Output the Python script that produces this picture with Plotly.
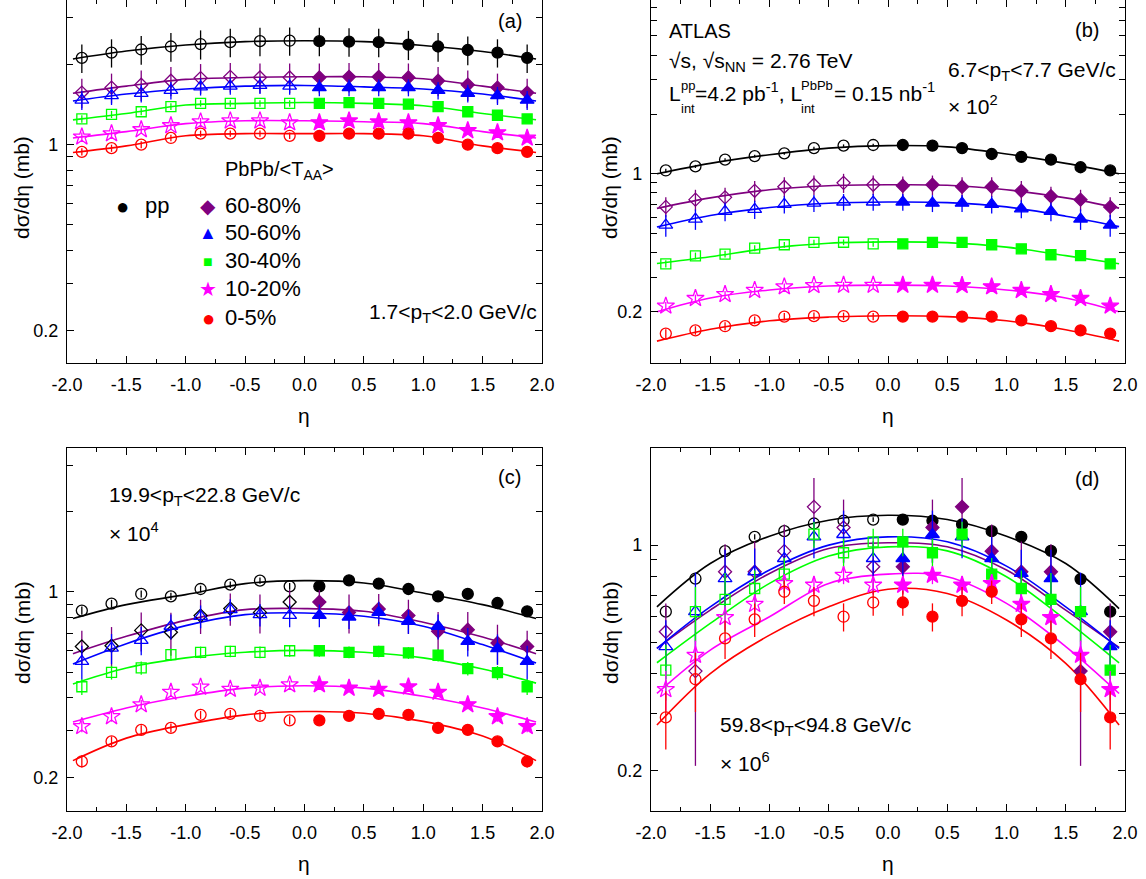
import math
import plotly.graph_objects as go

W, H = 1146, 879
FONT = "Liberation Sans, Arial, sans-serif"

# ---------------- data ----------------
ETA = [-1.875, -1.625, -1.375, -1.125, -0.875, -0.625, -0.375, -0.125,
       0.125, 0.375, 0.625, 0.875, 1.125, 1.375, 1.625, 1.875]
FIT_ETA = [-1.95, -1.5, -1.0, -0.5, 0.0, 0.5, 1.0, 1.5, 1.95]
SERIES = ["pp", "60-80%", "50-60%", "30-40%", "10-20%", "0-5%"]

X_TICKS = [-2.0, -1.5, -1.0, -0.5, 0.0, 0.5, 1.0, 1.5, 2.0]
X_TICKTEXT = ["-2.0", "-1.5", "-1.0", "-0.5", "0.0", "0.5", "1.0", "1.5", "2.0"]
Y_MAJOR = [0.2, 1]
Y_MAJOR_TEXT = ["0.2", "1"]
Y_MINOR = [0.1, 0.3, 0.4, 0.5, 0.6, 0.7, 0.8, 0.9, 2, 3, 4, 5, 6, 7, 8, 9]

# panel (a) 1.7<pT<2.0
A_PP = [2.12, 2.22, 2.28, 2.34, 2.39, 2.43, 2.45, 2.46, 2.45, 2.44, 2.43, 2.38, 2.34, 2.27, 2.22, 2.12]
A_C6080 = [1.57, 1.64, 1.68, 1.74, 1.78, 1.80, 1.79, 1.79, 1.79, 1.80, 1.80, 1.79, 1.74, 1.68, 1.64, 1.57]
A_C5060 = [1.47, 1.53, 1.56, 1.60, 1.65, 1.66, 1.67, 1.66, 1.64, 1.64, 1.64, 1.64, 1.60, 1.56, 1.53, 1.47]
A_C3040 = [1.25, 1.30, 1.33, 1.39, 1.43, 1.43, 1.43, 1.43, 1.43, 1.44, 1.43, 1.42, 1.39, 1.33, 1.29, 1.25]
A_C1020 = [1.07, 1.10, 1.14, 1.18, 1.22, 1.23, 1.23, 1.21, 1.21, 1.23, 1.22, 1.21, 1.18, 1.13, 1.11, 1.06]
A_C0005 = [0.94, 0.97, 1.00, 1.06, 1.10, 1.10, 1.10, 1.08, 1.08, 1.10, 1.10, 1.10, 1.06, 1.00, 0.97, 0.94]
A_PP_ERR = [0.26, 0.27, 0.28, 0.29, 0.30, 0.30, 0.30, 0.30, 0.30, 0.30, 0.30, 0.30, 0.29, 0.28, 0.27, 0.26]
A_C6080_ERR = [0.20, 0.21, 0.22, 0.22, 0.23, 0.23, 0.23, 0.23, 0.23, 0.23, 0.23, 0.23, 0.22, 0.22, 0.21, 0.20]
A_C5060_ERR = [0.12, 0.12, 0.12, 0.12, 0.12, 0.12, 0.12, 0.12, 0.12, 0.12, 0.12, 0.12, 0.12, 0.12, 0.12, 0.12]
A_C3040_ERR = [0.04, 0.04, 0.04, 0.04, 0.04, 0.04, 0.04, 0.04, 0.04, 0.04, 0.04, 0.04, 0.04, 0.04, 0.04, 0.04]
A_C1020_ERR = [0.04, 0.04, 0.04, 0.04, 0.04, 0.04, 0.04, 0.04, 0.04, 0.04, 0.04, 0.04, 0.04, 0.04, 0.04, 0.04]
A_C0005_ERR = [0.03, 0.03, 0.03, 0.03, 0.03, 0.03, 0.03, 0.03, 0.03, 0.03, 0.03, 0.03, 0.03, 0.03, 0.03, 0.03]
A_PP_FIT = [2.10, 2.25, 2.37, 2.44, 2.46, 2.44, 2.36, 2.24, 2.10]
A_C6080_FIT = [1.56, 1.66, 1.76, 1.79, 1.80, 1.80, 1.77, 1.66, 1.56]
A_C5060_FIT = [1.46, 1.55, 1.62, 1.66, 1.67, 1.65, 1.62, 1.55, 1.46]
A_C3040_FIT = [1.24, 1.31, 1.41, 1.43, 1.44, 1.43, 1.40, 1.31, 1.24]
A_C1020_FIT = [1.06, 1.12, 1.20, 1.23, 1.23, 1.22, 1.20, 1.12, 1.06]
A_C0005_FIT = [0.935, 0.99, 1.08, 1.10, 1.10, 1.10, 1.08, 0.99, 0.935]

# panel (b) 6.7<pT<7.7  (x 10^2)
B_PP = [1.04, 1.09, 1.18, 1.23, 1.27, 1.35, 1.39, 1.40, 1.40, 1.39, 1.35, 1.26, 1.22, 1.18, 1.08, 1.04]
B_C6080 = [0.68, 0.74, 0.76, 0.82, 0.86, 0.88, 0.90, 0.88, 0.87, 0.88, 0.86, 0.86, 0.82, 0.77, 0.74, 0.68]
B_C5060 = [0.55, 0.59, 0.645, 0.66, 0.70, 0.71, 0.72, 0.72, 0.72, 0.71, 0.71, 0.70, 0.665, 0.645, 0.59, 0.55]
B_C3040 = [0.35, 0.384, 0.392, 0.42, 0.437, 0.449, 0.45, 0.442, 0.442, 0.449, 0.449, 0.437, 0.417, 0.389, 0.385, 0.35]
B_C1020 = [0.214, 0.234, 0.245, 0.257, 0.268, 0.272, 0.273, 0.273, 0.273, 0.273, 0.272, 0.268, 0.257, 0.245, 0.234, 0.214]
B_C0005 = [0.155, 0.161, 0.169, 0.181, 0.189, 0.19, 0.19, 0.189, 0.189, 0.189, 0.189, 0.189, 0.181, 0.169, 0.161, 0.155]
B_PP_ERR = [0.02, 0.02, 0.02, 0.02, 0.02, 0.02, 0.02, 0.02, 0.02, 0.02, 0.02, 0.02, 0.02, 0.02, 0.02, 0.02]
B_C6080_ERR = [0.08, 0.09, 0.09, 0.10, 0.10, 0.10, 0.10, 0.10, 0.10, 0.10, 0.10, 0.10, 0.10, 0.09, 0.09, 0.08]
B_C5060_ERR = [0.07, 0.07, 0.07, 0.07, 0.07, 0.07, 0.07, 0.07, 0.07, 0.07, 0.07, 0.07, 0.07, 0.07, 0.07, 0.07]
B_C3040_ERR = [0.015, 0.015, 0.015, 0.015, 0.015, 0.015, 0.015, 0.015, 0.015, 0.015, 0.015, 0.015, 0.015, 0.015, 0.015, 0.015]
B_C1020_ERR = [0.01, 0.01, 0.01, 0.01, 0.01, 0.01, 0.01, 0.01, 0.01, 0.01, 0.01, 0.01, 0.01, 0.01, 0.01, 0.01]
B_C0005_ERR = [0.008, 0.008, 0.008, 0.008, 0.008, 0.008, 0.008, 0.008, 0.008, 0.008, 0.008, 0.008, 0.008, 0.008, 0.008, 0.008]
B_PP_FIT = [1.00, 1.13, 1.25, 1.35, 1.39, 1.37, 1.26, 1.13, 1.00]
B_C6080_FIT = [0.668, 0.755, 0.83, 0.87, 0.88, 0.875, 0.83, 0.755, 0.67]
B_C5060_FIT = [0.538, 0.615, 0.675, 0.71, 0.72, 0.715, 0.68, 0.61, 0.54]
B_C3040_FIT = [0.351, 0.38, 0.42, 0.445, 0.452, 0.448, 0.425, 0.385, 0.35]
B_C1020_FIT = [0.20, 0.235, 0.258, 0.27, 0.273, 0.27, 0.258, 0.235, 0.20]
B_C0005_FIT = [0.142, 0.163, 0.18, 0.188, 0.191, 0.189, 0.18, 0.162, 0.142]

# panel (c) 19.9<pT<22.8  (x 10^4)
C_PP = [0.851, 0.904, 0.983, 0.963, 1.026, 1.066, 1.103, 1.05, 1.05, 1.106, 1.075, 1.026, 0.963, 0.983, 0.909, 0.846]
C_C6080 = [0.624, 0.628, 0.717, 0.705, 0.815, 0.866, 0.838, 0.917, 0.917, 0.838, 0.863, 0.815, 0.711, 0.721, 0.643, 0.624]
C_C5060 = [0.548, 0.615, 0.658, 0.743, 0.81, 0.858, 0.822, 0.817, 0.817, 0.805, 0.838, 0.776, 0.743, 0.652, 0.612, 0.548]
C_C3040 = [0.44, 0.498, 0.518, 0.581, 0.593, 0.598, 0.593, 0.601, 0.601, 0.593, 0.598, 0.59, 0.578, 0.515, 0.497, 0.44]
C_C1020 = [0.312, 0.34, 0.377, 0.42, 0.439, 0.431, 0.435, 0.448, 0.448, 0.435, 0.431, 0.44, 0.42, 0.377, 0.34, 0.312]
C_C0005 = [0.2305, 0.274, 0.303, 0.308, 0.345, 0.348, 0.342, 0.329, 0.329, 0.342, 0.348, 0.345, 0.308, 0.303, 0.274, 0.2305]
C_PP_ERR = [0.03, 0.03, 0.03, 0.03, 0.03, 0.03, 0.03, 0.03, 0.03, 0.03, 0.03, 0.03, 0.03, 0.03, 0.03, 0.03]
C_C6080_ERR = [0.09, 0.11, 0.12, 0.13, 0.12, 0.12, 0.14, 0.10, 0.10, 0.14, 0.12, 0.12, 0.13, 0.12, 0.11, 0.09]
C_C5060_ERR = [0.08, 0.08, 0.08, 0.08, 0.08, 0.08, 0.08, 0.08, 0.08, 0.08, 0.08, 0.08, 0.08, 0.08, 0.08, 0.08]
C_C3040_ERR = [0.03, 0.03, 0.03, 0.03, 0.03, 0.03, 0.03, 0.03, 0.03, 0.03, 0.03, 0.03, 0.03, 0.03, 0.03, 0.03]
C_C1020_ERR = [0.015, 0.015, 0.015, 0.015, 0.015, 0.015, 0.015, 0.015, 0.015, 0.015, 0.015, 0.015, 0.015, 0.015, 0.015, 0.015]
C_C0005_ERR = [0.012, 0.012, 0.012, 0.012, 0.012, 0.012, 0.012, 0.012, 0.012, 0.012, 0.012, 0.012, 0.012, 0.012, 0.012, 0.012]
C_PP_FIT = [0.794, 0.896, 0.977, 1.075, 1.103, 1.081, 0.991, 0.896, 0.794]
C_C6080_FIT = [0.586, 0.681, 0.782, 0.858, 0.866, 0.846, 0.769, 0.677, 0.586]
C_C5060_FIT = [0.536, 0.639, 0.747, 0.822, 0.834, 0.81, 0.743, 0.634, 0.54]
C_C3040_FIT = [0.451, 0.518, 0.565, 0.593, 0.603, 0.593, 0.565, 0.513, 0.454]
C_C1020_FIT = [0.324, 0.366, 0.405, 0.435, 0.444, 0.435, 0.405, 0.366, 0.324]
C_C0005_FIT = [0.232, 0.282, 0.317, 0.345, 0.355, 0.35, 0.326, 0.287, 0.232]

# panel (d) 59.8<pT<94.8  (x 10^6)
D_PP = [0.622, 0.788, 0.958, 1.061, 1.105, 1.167, 1.19, 1.20, 1.20, 1.19, 1.16, 1.105, 1.061, 0.96, 0.785, 0.622]
D_C6080 = [0.539, 0.407, 0.827, 0.827, 0.958, 1.314, 1.134, 0.857, 0.857, 1.134, 1.314, 0.958, 0.827, 0.827, 0.407, 0.539]
D_C5060 = [0.485, 0.622, 0.788, 0.827, 0.909, 1.061, 1.079, 0.909, 0.909, 1.079, 1.061, 0.909, 0.817, 0.788, 0.622, 0.485]
D_C3040 = [0.41, 0.622, 0.679, 0.734, 0.813, 1.082, 0.947, 1.024, 1.024, 0.947, 1.082, 0.813, 0.734, 0.679, 0.622, 0.41]
D_C1020 = [0.357, 0.456, 0.597, 0.656, 0.761, 0.752, 0.807, 0.752, 0.752, 0.807, 0.752, 0.761, 0.656, 0.597, 0.456, 0.357]
D_C0005 = [0.2925, 0.384, 0.514, 0.589, 0.717, 0.672, 0.60, 0.664, 0.664, 0.60, 0.672, 0.717, 0.589, 0.514, 0.384, 0.2925]
D_PP_ERR = [0.02, 0.02, 0.02, 0.02, 0.02, 0.02, 0.02, 0.02, 0.02, 0.02, 0.02, 0.02, 0.02, 0.02, 0.02, 0.02]
D_C6080_ERR = [0.12, 0.20, 0.18, 0.20, 0.20, 0.30, 0.25, 0.15, 0.15, 0.25, 0.30, 0.20, 0.20, 0.18, 0.20, 0.12]
D_C5060_ERR = [0.10, 0.20, 0.18, 0.15, 0.15, 0.15, 0.20, 0.12, 0.12, 0.20, 0.15, 0.15, 0.15, 0.18, 0.20, 0.10]
D_C3040_ERR = [0.08, 0.12, 0.14, 0.10, 0.10, 0.10, 0.10, 0.10, 0.10, 0.10, 0.10, 0.10, 0.10, 0.14, 0.12, 0.08]
D_C1020_ERR = [0.05, 0.05, 0.05, 0.05, 0.05, 0.05, 0.05, 0.05, 0.05, 0.05, 0.05, 0.05, 0.05, 0.05, 0.05, 0.05]
D_C0005_ERR = [0.06, 0.08, 0.07, 0.07, 0.06, 0.07, 0.06, 0.06, 0.06, 0.06, 0.07, 0.06, 0.07, 0.07, 0.08, 0.06]
D_PP_FIT = [0.644, 0.877, 1.066, 1.195, 1.238, 1.201, 1.066, 0.877, 0.636]
D_C6080_FIT = [0.479, 0.629, 0.817, 0.976, 1.017, 0.988, 0.837, 0.629, 0.482]
D_C5060_FIT = [0.479, 0.644, 0.837, 1.0, 1.061, 1.024, 0.861, 0.644, 0.479]
D_C3040_FIT = [0.432, 0.572, 0.761, 0.925, 0.988, 0.96, 0.798, 0.586, 0.432]
D_C1020_FIT = [0.347, 0.473, 0.6, 0.761, 0.813, 0.798, 0.66, 0.485, 0.347]
D_C0005_FIT = [0.277, 0.40, 0.526, 0.644, 0.73, 0.708, 0.586, 0.43, 0.277]

# ---------------- styles ----------------
COLORS = ["#000000", "#7F007F", "#0000FF", "#00FF00", "#FF00FF", "#FF0000"]
SYMBOLS = ["circle", "diamond", "triangle-up", "square", "star", "circle"]
SIZES = [11, 10, 12, 10, 13, 11]


def px(x):
    return x / W


def py(y):
    return 1 - y / H


PANELS = [
    dict(ax="", xdom=[px(67), px(542)], ydom=[py(363), py(0)], yr=(0.151, 3.5),
         vals=[A_PP, A_C6080, A_C5060, A_C3040, A_C1020, A_C0005],
         errs=[A_PP_ERR, A_C6080_ERR, A_C5060_ERR, A_C3040_ERR, A_C1020_ERR, A_C0005_ERR],
         fits=[A_PP_FIT, A_C6080_FIT, A_C5060_FIT, A_C3040_FIT, A_C1020_FIT, A_C0005_FIT],
         open_diamond="#7F007F"),
    dict(ax="2", xdom=[px(651), px(1125)], ydom=[py(363), py(0)], yr=(0.110, 7.6),
         vals=[B_PP, B_C6080, B_C5060, B_C3040, B_C1020, B_C0005],
         errs=[B_PP_ERR, B_C6080_ERR, B_C5060_ERR, B_C3040_ERR, B_C1020_ERR, B_C0005_ERR],
         fits=[B_PP_FIT, B_C6080_FIT, B_C5060_FIT, B_C3040_FIT, B_C1020_FIT, B_C0005_FIT],
         open_diamond="#7F007F"),
    dict(ax="3", xdom=[px(67), px(542)], ydom=[py(811), py(448)], yr=(0.150, 3.48),
         vals=[C_PP, C_C6080, C_C5060, C_C3040, C_C1020, C_C0005],
         errs=[C_PP_ERR, C_C6080_ERR, C_C5060_ERR, C_C3040_ERR, C_C1020_ERR, C_C0005_ERR],
         fits=[C_PP_FIT, C_C6080_FIT, C_C5060_FIT, C_C3040_FIT, C_C1020_FIT, C_C0005_FIT],
         open_diamond="#000000"),
    dict(ax="4", xdom=[px(651), px(1125)], ydom=[py(811), py(448)], yr=(0.150, 2.0),
         vals=[D_PP, D_C6080, D_C5060, D_C3040, D_C1020, D_C0005],
         errs=[D_PP_ERR, D_C6080_ERR, D_C5060_ERR, D_C3040_ERR, D_C1020_ERR, D_C0005_ERR],
         fits=[D_PP_FIT, D_C6080_FIT, D_C5060_FIT, D_C3040_FIT, D_C1020_FIT, D_C0005_FIT],
         open_diamond="#7F007F"),
]

fig = go.Figure()
layout_axes = {}
for p in PANELS:
    xa, ya = "x" + p["ax"], "y" + p["ax"]
    for i, fit in enumerate(p["fits"]):
        fig.add_trace(go.Scatter(
            x=FIT_ETA, y=fit, mode="lines", xaxis=xa, yaxis=ya,
            line=dict(color=COLORS[i], width=1.6, shape="spline", smoothing=1.0),
            hoverinfo="skip", showlegend=False))
    for i, vals in enumerate(p["vals"]):
        syms = [SYMBOLS[i] + "-open" if e < 0 else SYMBOLS[i] for e in ETA]
        if SYMBOLS[i] == "diamond":
            cols = [p["open_diamond"] if e < 0 else COLORS[i] for e in ETA]
        else:
            cols = [COLORS[i] for e in ETA]
        fig.add_trace(go.Scatter(
            x=ETA, y=vals, mode="markers", xaxis=xa, yaxis=ya, name=SERIES[i],
            marker=dict(symbol=syms, size=SIZES[i], color=cols,
                        line=dict(color=cols, width=1.3)),
            error_y=dict(type="data", array=p["errs"][i], visible=True,
                         color=COLORS[i], thickness=1.3, width=0),
            showlegend=False))

    lo, hi = p["yr"]
    key = p["ax"]
    layout_axes["xaxis" + key] = dict(
        domain=p["xdom"], anchor=ya, range=[-2, 2],
        tickmode="array", tickvals=X_TICKS, ticktext=X_TICKTEXT,
        ticks="inside", ticklen=7, tickwidth=1.2, tickcolor="black",
        minor=dict(tickmode="linear", tick0=-2, dtick=0.25, ticks="inside",
                   ticklen=4, tickwidth=1.2, tickcolor="black"),
        showline=True, linecolor="black", linewidth=1.2, mirror="ticks",
        showgrid=False, zeroline=False, automargin=False,
        ticklabelstandoff=5,
        tickfont=dict(family=FONT, size=18, color="black"))
    layout_axes["yaxis" + key] = dict(
        domain=p["ydom"], anchor=xa, type="log",
        range=[math.log10(lo), math.log10(hi)],
        tickmode="array", tickvals=Y_MAJOR, ticktext=Y_MAJOR_TEXT,
        ticks="inside", ticklen=7, tickwidth=1.2, tickcolor="black",
        minor=dict(tickmode="array", tickvals=[t for t in Y_MINOR if lo <= t <= hi],
                   ticks="inside", ticklen=6, tickwidth=1.2, tickcolor="black"),
        showline=True, linecolor="black", linewidth=1.2, mirror="ticks",
        showgrid=False, zeroline=False, automargin=False,
        ticklabelstandoff=4,
        tickfont=dict(family=FONT, size=18, color="black"))

ANN = []


def ann(text, x, y, size=21, xanchor="left", color="black", angle=0, yanchor="middle"):
    ANN.append(dict(text=text, x=px(x), y=py(y), xref="paper", yref="paper",
                    xanchor=xanchor, yanchor=yanchor, showarrow=False,
                    textangle=angle,
                    font=dict(family=FONT, size=size, color=color)))


# axis titles
for (cx, cy) in [(21, 188), (609, 188), (22, 633), (610, 633)]:
    ann("dσ/dη (mb)", cx, cy, size=21, xanchor="center", angle=-90)
for (cx, cy) in [(304, 415), (888, 415), (304, 863), (888, 863)]:
    ann("η", cx, cy, size=21, xanchor="center")

# panel labels
ann("(a)", 510, 21, size=20, xanchor="center")
ann("(b)", 1087, 30, size=20, xanchor="center")
ann("(c)", 509, 477, size=20, xanchor="center")
ann("(d)", 1087, 479, size=20, xanchor="center")

# panel (a) texts & legend
ann("1.7&lt;p<sub>T</sub>&lt;2.0 GeV/c", 367, 313, size=21)
ann("PbPb/&lt;T<sub>AA</sub>&gt;", 223, 170, size=20)
ann("●", 122, 206, size=22, xanchor="center", color=COLORS[0])
ann("pp", 143, 205, size=22)
LEG_GLYPHS = ["◆", "▲", "■", "★", "●"]
LEG_Y = [205, 232, 260, 288, 317]
LEG_GSIZE = [20, 18, 16, 20, 22]
for k in range(5):
    ann(LEG_GLYPHS[k], 208, LEG_Y[k] + 1, size=LEG_GSIZE[k], xanchor="center",
        color=COLORS[k + 1])
    ann(SERIES[k + 1], 223, LEG_Y[k], size=22)

# panel (b) texts
ann("ATLAS", 667, 31, size=20)
ann("√s, √s<sub>NN</sub> = 2.76 TeV", 667, 62, size=21)
ann("L", 667, 107, size=21, yanchor="bottom")
ann("pp", 679, 86, size=13)
ann("int", 679, 108, size=13)
ann("=4.2 pb<sup>-1</sup>, L", 693, 107, size=21, yanchor="bottom")
ann("PbPb", 799, 86, size=13)
ann("int", 799, 108, size=13)
ann("= 0.15 nb<sup>-1</sup>", 832, 107, size=21, yanchor="bottom")
ann("6.7&lt;p<sub>T</sub>&lt;7.7 GeV/c", 946, 71, size=21)
ann("× 10<sup>2</sup>", 946, 105, size=21)

# panel (c) texts
ann("19.9&lt;p<sub>T</sub>&lt;22.8 GeV/c", 107, 496, size=21)
ann("× 10<sup>4</sup>", 107, 532, size=21)

# panel (d) texts
ann("59.8&lt;p<sub>T</sub>&lt;94.8 GeV/c", 718, 726, size=21)
ann("× 10<sup>6</sup>", 718, 762, size=21)

fig.update_layout(
    width=W, height=H, margin=dict(l=0, r=0, t=0, b=0),
    paper_bgcolor="white", plot_bgcolor="white",
    showlegend=False, font=dict(family=FONT, color="black"),
    annotations=ANN, **layout_axes)

fig.write_html("out.html")
